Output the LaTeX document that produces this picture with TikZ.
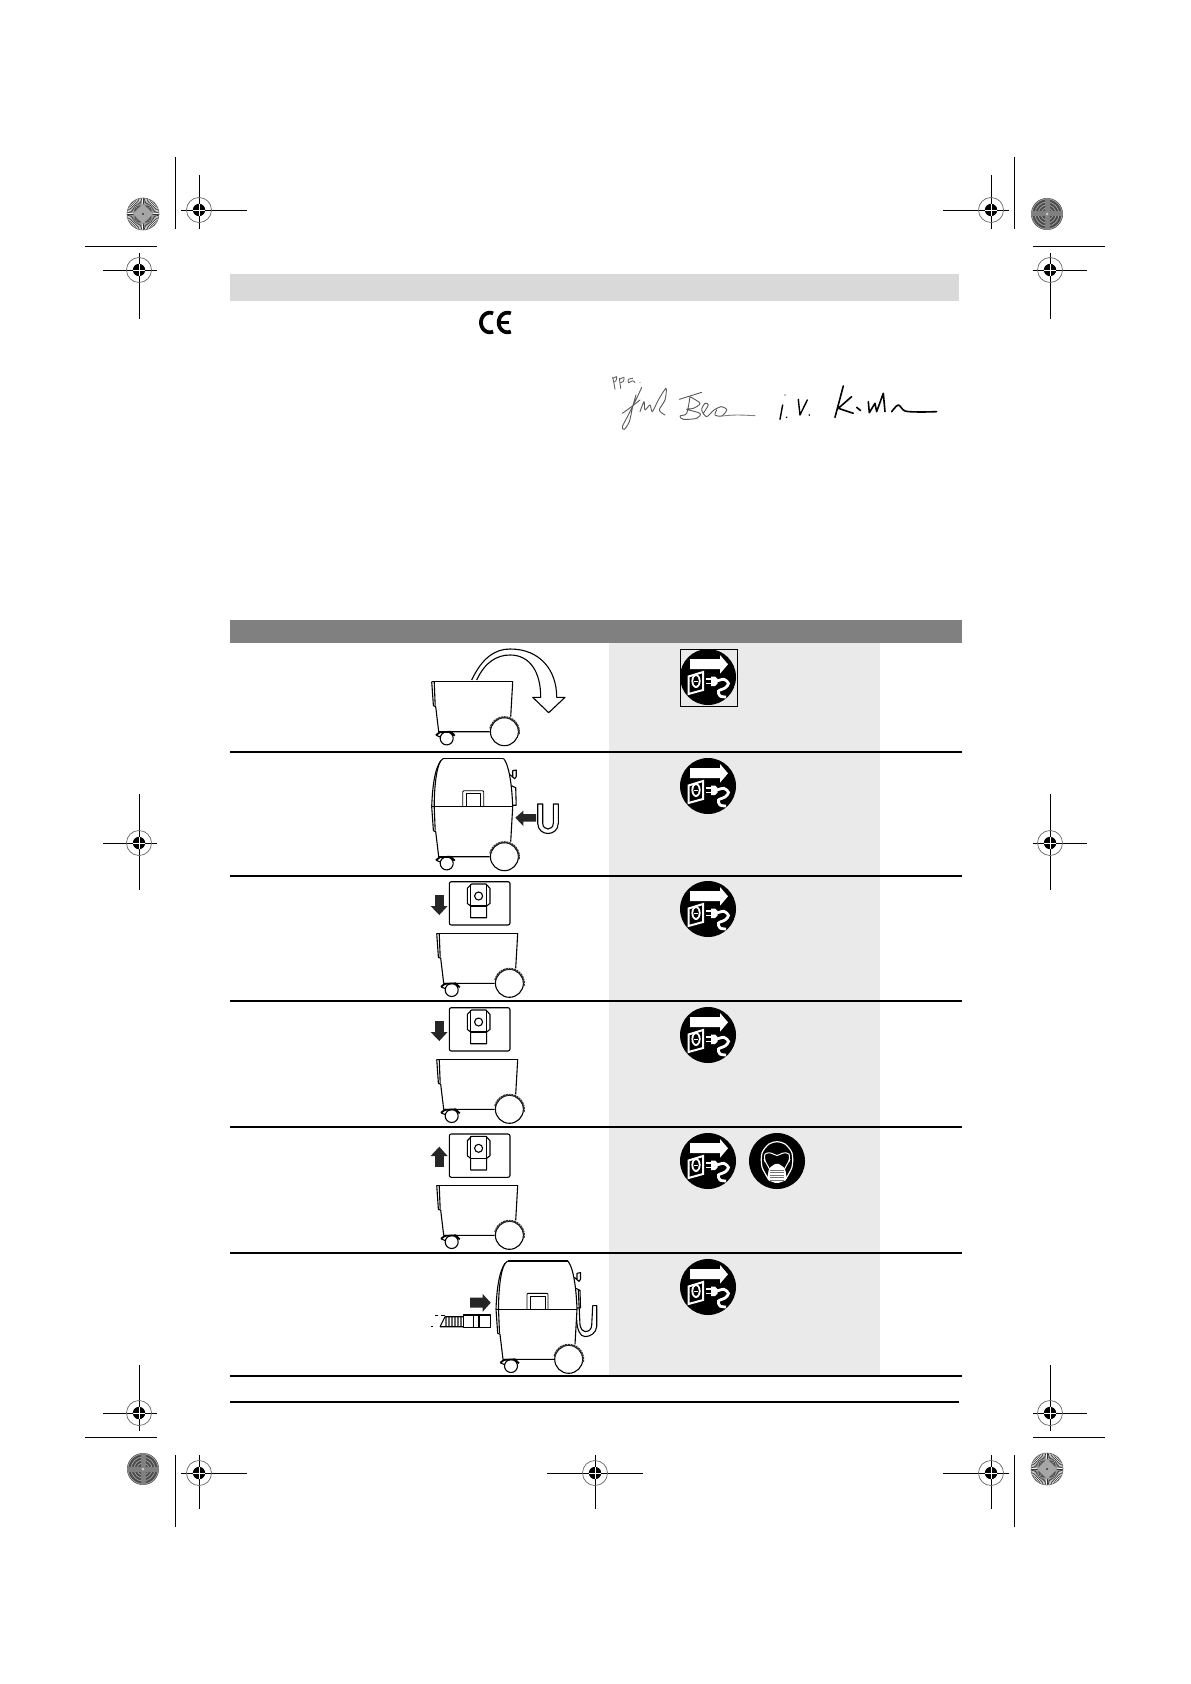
\documentclass[tikz,border=0pt]{standalone}
\definecolor{bandgrey}{HTML}{D9D9D9}
\definecolor{headgrey}{HTML}{808080}
\definecolor{columngrey}{HTML}{EAEAEA}
\tikzset{
    markline/.style={black,line width=0.45pt},
    ruleline/.style={black,line width=0.6pt},
    linework/.style={black,line width=0.55pt,line join=round},
    blackarrow/.style={fill=black!85,draw=none},
    signpen/.style={line width=0.45pt,line cap=round,line join=round}
}
% registration mark
\newcommand{\regmark}[2]{
    \draw[black!60,line width=0.35pt] (#1,#2) circle[radius=12.5];
    \fill[black] (#1,#2) circle[radius=6.2];
    \draw[white,line width=0.25pt] (#1-6.2,#2) -- (#1+6.2,#2) (#1,#2-6.2) -- (#1,#2+6.2);
}
% colour targets
\newcommand{\spokemark}[2]{
    \fill[white] (#1,#2) circle[radius=16];
    \foreach \a in {0,6,...,354} {
        \draw[black!80,line width=0.3pt] ({#1+4*cos(\a)},{#2+4*sin(\a)}) -- ({#1+16*cos(\a)},{#2+16*sin(\a)});
    }
    \fill[black!35] (#1-10,#2) -- (#1,#2-10) -- (#1+10,#2) -- (#1,#2+10) -- cycle;
    \draw[black!60,line width=0.3pt] (#1,#2) circle[radius=16];
    \fill[black] (#1,#2) circle[radius=0.9];
}
\newcommand{\ringmark}[2]{
    \fill[black!70] (#1,#2) circle[radius=16];
    \foreach \r in {6,9,12,15} {
        \draw[black!35,line width=0.35pt] (#1,#2) circle[radius=\r];
    }
    \fill[black!50] (#1-16,#2-2.5) rectangle (#1+16,#2+2.5);
    \fill[black!50] (#1-2.5,#2-16) rectangle (#1+2.5,#2+16);
    \fill[black!20] (#1,#2) circle[radius=1.5];
}
% lower part of the cleaner
\newcommand{\vacbin}{
    \draw[linework,line width=0.75pt] (0,0) -- (81,0);
    \draw[linework] (81,0) -- (79,35);
    \draw[linework] (0,0) -- (1.7,24) -- (4,25) -- (7,50) -- (58,50);
    \draw[linework] (2.5,0) -- (3.5,24);
    \draw[linework,fill=white] (72.7,50) circle[radius=14];
    \draw[black!80,line width=0.9pt,dash pattern=on 1pt off 0.35pt,domain=-10:170,variable=\t,smooth] plot ({72.7+14.6*cos(\t)},{50-14.6*sin(\t)});
    \draw[linework,fill=white] (15,56.7) circle[radius=6.5];
    \draw[linework,line width=0.9pt] (4.3,53.5) -- (8,50.6) -- (19,50) -- (23,54);
    \draw[linework] (4.3,53.5) -- (9,55.5);
}
% lid of the cleaner
\newcommand{\vaclid}{
    \draw[linework,line width=0.75pt] (11.7,-48.3) -- (71.7,-48.3);
    \draw[linework] (11.7,-48.3) .. controls (5,-44) and (1,-28) .. (0,0);
    \draw[linework] (71.7,-48.3) .. controls (76,-44) and (80,-28) .. (81,0);
    \draw[linework] (9,-46) .. controls (4,-38) and (2.5,-15) .. (2.5,0);
    \draw[linework] (0,0) -- (81,0);
    \draw[linework,line width=0.45pt] (31,0) -- (31,-15) -- (32,-16) -- (51,-16) -- (52,-15) -- (52,0);
    \draw[linework,line width=0.45pt] (34.5,0) -- (34.5,-13) -- (49,-13) -- (49,0);
    \draw[linework] (78.3,-32) -- (83,-28) -- (84.5,-30) -- (84.5,-36.7) -- (81,-36) -- (81,-30);
    \draw[linework] (79.8,-21) -- (84,-19) -- (84.5,-1.5) -- (81,-1.5);
}
% filter box
\newcommand{\filterbox}{
    \draw[linework,rounded corners=1pt] (0,0) rectangle (60.7,43.3);
    \draw[linework] (18,21.7) -- (18,6.7) -- (22.3,2.3) -- (36.7,2.3) -- (40.7,6.7) -- (40.7,21.7) -- (37.3,24.3) -- (37.3,36) -- (21.3,36) -- (21.3,24.3) -- cycle;
    \draw[linework] (21.3,2.3) -- (21.3,24.3) -- (37.3,24.3) -- (37.3,2.3);
    \draw[linework] (29.3,14.3) circle[radius=4];
}
% unplug sign
\newcommand{\plugsign}{
    \fill[black] (0,0) circle[radius=28];
    \fill[white] (-18,-18) -- (12,-18) -- (12,-22) -- (20,-12.7) -- (12,-3.3) -- (12,-8) -- (-18,-8) -- cycle;
    \draw[white,line width=1pt] (-19.5,-0.5) -- (-5,-5) -- (-5,13) -- (-19.5,17) -- cycle;
    \fill[white] (-12,4) ellipse[x radius=4.6,y radius=7];
    \fill[black] (-12,4) ellipse[x radius=2.8,y radius=5];
    \draw[white,line width=0.5pt] (-14,4) -- (-10,4);
    \fill[white] (3,-0.5) -- (7,-0.5) -- (9.5,2) -- (9.5,6.5) -- (7,9) -- (3,9) -- cycle;
    \draw[white,line width=0.8pt] (-2,1.7) -- (3,1.7) (-2,6.5) -- (3,6.5);
    \draw[white,line width=1.4pt,smooth] plot coordinates {(9,4) (16,2.3) (20.5,6.5) (17,11) (10.5,14) (12,19) (18,20)};
}
% mask sign
\newcommand{\masksign}{
    \fill[black] (0,0) circle[radius=28];
    \draw[white,line width=0.6pt,smooth] plot coordinates {(-8,19) (-15,6) (-15,-8) (-8,-17) (0,-19.3) (8,-17) (15,-8) (15,6) (8,19)};
    \draw[white,line width=0.5pt,smooth] plot coordinates {(-12,1) (-12,-7) (-6,-8) (0,-5.5) (6,-8) (12,-7) (12,1)};
    \draw[white,line width=0.5pt] (-13,-2) -- (-7,9) (13,-2) -- (7,9);
    \fill[white,rounded corners=1pt] (0,1.7) -- (8,7) -- (10,19) -- (0,22.5) -- (-10,19) -- (-8,7) -- cycle;
    \foreach \y in {9,11.5,14,16.5,19} {
        \draw[black!55,line width=0.5pt] (-7,\y) -- (7,\y);
    }
}
\begin{document}
\begin{tikzpicture}[x=0.5pt,y=-0.5pt]
    \useasboundingbox (0,0) rectangle (1190,1684);
    \fill[white] (0,0) rectangle (1190,1684);

    % Printer marks
    \draw[markline] (199,175) -- (199,229) (181,210) -- (247,210);
    \draw[markline] (991,175) -- (991,229) (943,210) -- (1009,210);
    \draw[markline] (139,253) -- (139,319) (103,270) -- (157,270);
    \draw[markline] (1050,253) -- (1050,319) (1033,270) -- (1087,270);
    \draw[markline] (139,794) -- (139,890) (103,843) -- (157,843);
    \draw[markline] (1050,794) -- (1050,890) (1033,843) -- (1087,843);
    \draw[markline] (139,1365) -- (139,1431) (103,1413) -- (157,1413);
    \draw[markline] (1050,1365) -- (1050,1431) (1033,1413) -- (1087,1413);
    \draw[markline] (199,1455) -- (199,1509) (181,1473) -- (247,1473);
    \draw[markline] (595,1455) -- (595,1509) (547,1473) -- (643,1473);
    \draw[markline] (991,1455) -- (991,1509) (943,1473) -- (1009,1473);
    \draw[markline] (175,157) -- (175,229) (1014,157) -- (1014,229);
    \draw[markline] (175,1455) -- (175,1527) (1014,1455) -- (1014,1527);
    \draw[markline] (85,246) -- (157,246) (1033,246) -- (1105,246);
    \draw[markline] (85,1437) -- (157,1437) (1033,1437) -- (1105,1437);
    \foreach \x/\y in {199/210,991/210,139/270,1050/270,139/843,1050/843,139/1413,1050/1413,199/1473,595/1473,991/1473} {
        \regmark{\x}{\y}
    }
    \spokemark{143}{214}
    \ringmark{1047}{214}
    \ringmark{143}{1469}
    \spokemark{1047}{1469}

    % Top band and CE sign
    \fill[bandgrey] (230,274) rectangle (959,301);
    \draw[black,line width=1.9pt,domain=68:292,variable=\t,smooth] plot ({489.8+8.8*cos(\t)},{322.5-9.8*sin(\t)});
    \draw[black,line width=1.9pt,domain=68:292,variable=\t,smooth] plot ({507.5+8.8*cos(\t)},{322.5-9.8*sin(\t)});
    \draw[black,line width=1.5pt] (499,322.5) -- (509,322.5);

    % Signatures
    \begin{scope}[shift={(590,360)},scale=0.3333]
        \draw[signpen,black!60,smooth] plot coordinates {(68,52) (72,70) (75,88)};
        \draw[signpen,black!60,smooth] plot coordinates {(68,55) (80,50) (78,62) (72,66)};
        \draw[signpen,black!60,smooth] plot coordinates {(88,55) (92,85)};
        \draw[signpen,black!60,smooth] plot coordinates {(88,58) (102,52) (100,64) (92,68)};
        \draw[signpen,black!60,smooth] plot coordinates {(128,55) (115,58) (116,68) (128,62) (135,68)};
        \fill[black!60] (150,68) circle[radius=1.5];
        \draw[signpen,black!65,smooth] plot coordinates {(155,82) (140,115) (115,165) (97,200) (103,208) (118,185) (128,140) (138,105)};
        \draw[signpen,black!65,smooth] plot coordinates {(97,160) (118,145) (150,120)};
        \draw[signpen,black!65,smooth] plot coordinates {(150,155) (162,125) (165,150) (180,135) (187,155) (205,120) (228,85) (225,120) (208,150) (225,165)};
        \draw[signpen,black!65,smooth] plot coordinates {(268,118) (300,108) (335,97)};
        \draw[signpen,black!65,smooth] plot coordinates {(300,110) (330,130) (310,145) (290,148) (330,160) (320,175) (280,178) (270,168) (290,160) (300,110)};
        \draw[signpen,black!65,smooth] plot coordinates {(340,160) (355,135) (345,130) (335,150) (350,170) (372,150) (395,140) (410,150) (395,168) (375,165) (380,150)};
        \draw[signpen,black!50,smooth] plot coordinates {(395,168) (440,165) (495,167)};
        \draw[signpen,black,line width=0.7pt] (578,135) -- (570,178) (625,118) -- (630,165) -- (652,120);
        \fill[black] (585,105) circle[radius=2] (590,172) circle[radius=2.5] (658,165) circle[radius=2.5];
        \draw[signpen,black,line width=0.8pt] (760,78) -- (735,172) (785,110) -- (745,145) -- (790,160);
        \draw[signpen,black,line width=0.8pt] (800,142) -- (812,152) (835,125) -- (838,158) -- (855,130) -- (860,155) -- (880,100) -- (885,155);
        \draw[signpen,black,line width=0.8pt,smooth] plot coordinates {(905,155) (925,135) (945,153) (990,156) (1040,155)};
    \end{scope}

    % Table
    \fill[columngrey] (609,643) rectangle (880,1376);
    \fill[headgrey] (230,620) rectangle (962,643);
    \foreach \y in {752,876,1001,1127,1253,1376} {
        \draw[ruleline] (230,\y) -- (962,\y);
    }
    \draw[ruleline] (230,1402) -- (959,1402);

    % Signs
    \foreach \y in {677,786,909,1035,1161,1287} {
        \begin{scope}[shift={(708,\y)}]
            \plugsign
        \end{scope}
    }
    \draw[black,line width=0.6pt] (680.5,649.5) rectangle (737.5,706.5);
    \begin{scope}[shift={(777,1161)}]
        \masksign
    \end{scope}

    % Row 1: lid taken off
    \draw[linework,fill=white] (471.7,680) .. controls (482,658) and (495,649) .. (510,649) .. controls (540,649) and (556.7,670) .. (556.7,697.3) -- (565,697.3) -- (548.7,712.7) -- (532.7,697.3) -- (540.7,697.3) .. controls (540.7,672) and (530,655) .. (510,655) .. controls (497,655) and (485,662) .. (476.7,680);

    % Lower parts
    \foreach \x/\y in {431.7/681.7,431.7/806.7,436.7/933.3,436.7/1059.3,436.7/1185.3,496/1309.3} {
        \begin{scope}[shift={(\x,\y)}]
            \vacbin
        \end{scope}
    }

    % Row 2: closed cleaner and holder
    \begin{scope}[shift={(431.7,806.7)}]
        \vaclid
    \end{scope}
    \fill[blackarrow] (515.3,817.7) -- (523.3,810.7) -- (523.3,814) -- (536,814) -- (536,821.7) -- (523.3,821.7) -- (523.3,826) -- cycle;
    \draw[linework] (537.7,804) -- (537.7,823) .. controls (537.7,837) and (558.3,837) .. (558.3,823) -- (558.3,804) -- (553.3,804) -- (553.3,823) .. controls (553.3,831) and (542.7,831) .. (542.7,823) -- (542.7,804) -- cycle;

    % Rows 3 to 5: filter boxes
    \foreach \y in {881.7,1007.7,1134} {
        \begin{scope}[shift={(449.3,\y)}]
            \filterbox
        \end{scope}
    }
    \foreach \y in {881.7,1007.7} {
        \begin{scope}[shift={(449.3,\y)}]
            \fill[blackarrow] (-14.3,13.3) rectangle (-5,25);
            \fill[blackarrow] (-18.7,24.3) -- (-1.7,24.3) -- (-10,33.3) -- cycle;
        \end{scope}
    }
    \begin{scope}[shift={(449.3,1134)}]
        \fill[blackarrow] (-14.3,22) rectangle (-5,32.7);
        \fill[blackarrow] (-18.7,22) -- (-1.7,22) -- (-10,12.7) -- cycle;
    \end{scope}

    % Row 6: cleaner with hose
    \begin{scope}[shift={(496,1309.3)}]
        \vaclid
        \draw[linework] (82.3,-19.3) -- (84,15.7) .. controls (85,20) and (87,22.3) .. (89,22.3) .. controls (93,22.3) and (95.5,20) .. (95.7,15.7) -- (96.7,-3.7) -- (100.7,-3.7) -- (100.7,17.3) .. controls (100,24) and (94,27.3) .. (89,27.3) .. controls (84,27.3) and (81,20) .. (80.7,10.7);
    \end{scope}
    \fill[blackarrow] (470,1297.7) -- (482.7,1297.7) -- (482.7,1294) -- (490.7,1302.7) -- (482.7,1311.7) -- (482.7,1307.7) -- (470,1307.7) -- cycle;
    \foreach \x in {445,446.5,...,463} {
        \draw[black!60,line width=0.35pt] (\x,1316.7) -- (\x,1326.7);
    }
    \draw[linework] (463.3,1315) rectangle (490.7,1327.3);
    \draw[linework] (473.3,1315) -- (473.3,1327.3) (479,1315) -- (479,1327.3);
    \draw[linework] (445,1316.7) -- (463.3,1316.7) (440,1326.7) -- (463.3,1326.7) (440,1326.7) -- (445,1316.7);
    \draw[linework,line width=0.4pt] (435,1315) -- (438,1315) (441,1315) -- (445,1315) (431,1326.7) -- (433,1326.7);
\end{tikzpicture}
\end{document}
